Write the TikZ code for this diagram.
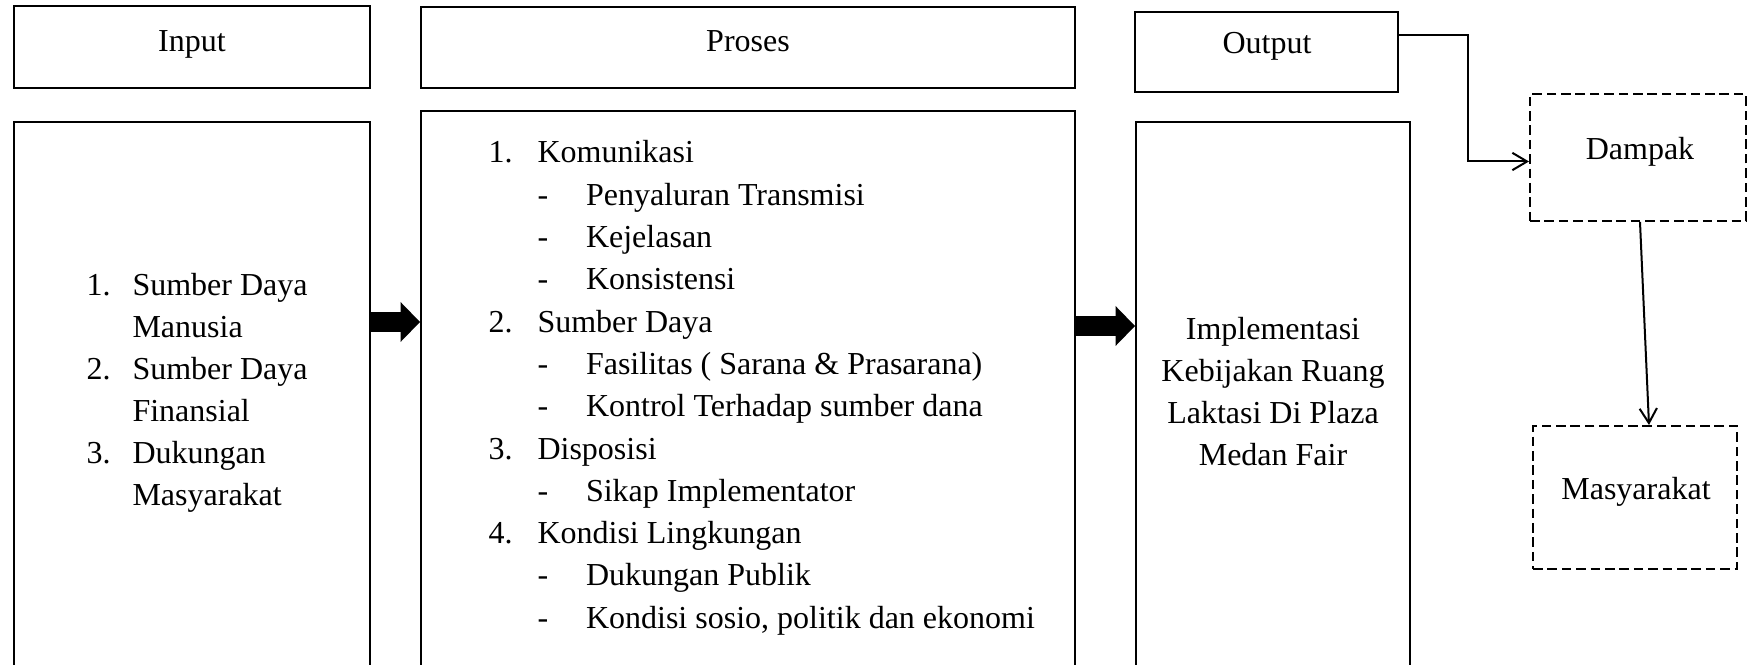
\documentclass[tikz,border=0pt]{standalone}
\usepackage{fontspec}
\setmainfont{Liberation Serif}
\usetikzlibrary{arrows.meta,calc,fit}

\tikzset{
  frame/.style={draw, line width=0.75pt, inner sep=0pt},
  dashframe/.style={frame, dash pattern=on 3.6pt off 1.8pt},
  txt/.style={inner sep=0pt, anchor=base west},
  ctxt/.style={inner sep=0pt, anchor=base},
  bigarrow/.style={line width=7.5pt, -{Triangle[length=7.3pt,width=15pt,line width=0pt]}},
  thinarrow/.style={line width=0.75pt, -{Straight Barb[length=5.5pt,width=6.5pt]}}
}

\begin{document}
\begin{tikzpicture}[x=0.375pt, y=-0.375pt, font=\fontsize{12pt}{15.86pt}\selectfont]
 \useasboundingbox (0,0) rectangle (1747,665);
 \clip (0,0) rectangle (1747,665);
 % headers
 \node[frame, fit={(14,6) (370,88)}] (inhead) {};
 \node[frame, fit={(421,7) (1075,88)}] (prhead) {};
 \node[frame, fit={(1135,12) (1398,92)}] (outhead) {};
 \node[ctxt] (inlbl) at (192,52) {Input};
 \node[ctxt] (prlbl) at (748,52) {Proses};
 \node[ctxt] (outlbl) at (1267,54) {Output};
 % bodies
 \node[frame, fit={(14,122) (370,690)}] (inbody) {};
 \node[frame, fit={(421,111) (1075,690)}] (prbody) {};
 \node[frame, fit={(1136,122) (1410,690)}] (outbody) {};
 \foreach \mk/\txt [count=\i from 0] in {1./Sumber Daya, /Manusia, 2./Sumber Daya, /Finansial, 3./Dukungan, /Masyarakat} {
  \node[txt] (inm\i) at (86,{296+42*\i}) {\mk};
  \node[txt] (int\i) at (132,{296+42*\i}) {\txt};
 }
 \foreach \lv/\mk/\txt [count=\i from 0] in {0/1./Komunikasi, 1/-/Penyaluran Transmisi, 1/-/Kejelasan, 1/-/Konsistensi, 0/2./Sumber Daya, 1/-/Fasilitas ( Sarana \& Prasarana), 1/-/Kontrol Terhadap sumber dana, 0/3./Disposisi, 1/-/Sikap Implementator, 0/4./Kondisi Lingkungan, 1/-/Dukungan Publik, {1/-/Kondisi sosio, politik dan ekonomi}} {
  \node[txt] (prm\i) at ({488+49*\lv},{163+42.3*\i}) {\mk};
  \node[txt] (prt\i) at ({537+48.5*\lv},{163+42.3*\i}) {\txt};
 }
 \foreach \txt [count=\i from 0] in {Implementasi, Kebijakan Ruang, Laktasi Di Plaza, Medan Fair}
  \node[ctxt] (outt\i) at (1273,{340+41.7*\i}) {\txt};
 % dampak
 \node[dashframe, fit={(1530,94) (1746,221)}] (dampak) {};
 \node[dashframe, fit={(1533,426) (1737,569)}] (masy) {};
 \node[ctxt] (dmlbl) at (1640,160) {Dampak};
 \node[ctxt] (mslbl) at (1636,500) {Masyarakat};
 % arrows
 \coordinate (a1) at (0,322);
 \coordinate (a2) at (0,326);
 \coordinate (c1) at (0,35);
 \draw[bigarrow] (inbody.east |- a1) -- (prbody.west |- a1);
 \draw[bigarrow] (prbody.east |- a2) -- (outbody.west |- a2);
 \draw[thinarrow] (outhead.east |- c1) -- ++(69,0) |- ($(dampak.west)+(0,4)$);
 \draw[thinarrow] ($(dampak.south)+(2,0)$) -- ($(masy.north)+(14,0)$);
\end{tikzpicture}
\end{document}
